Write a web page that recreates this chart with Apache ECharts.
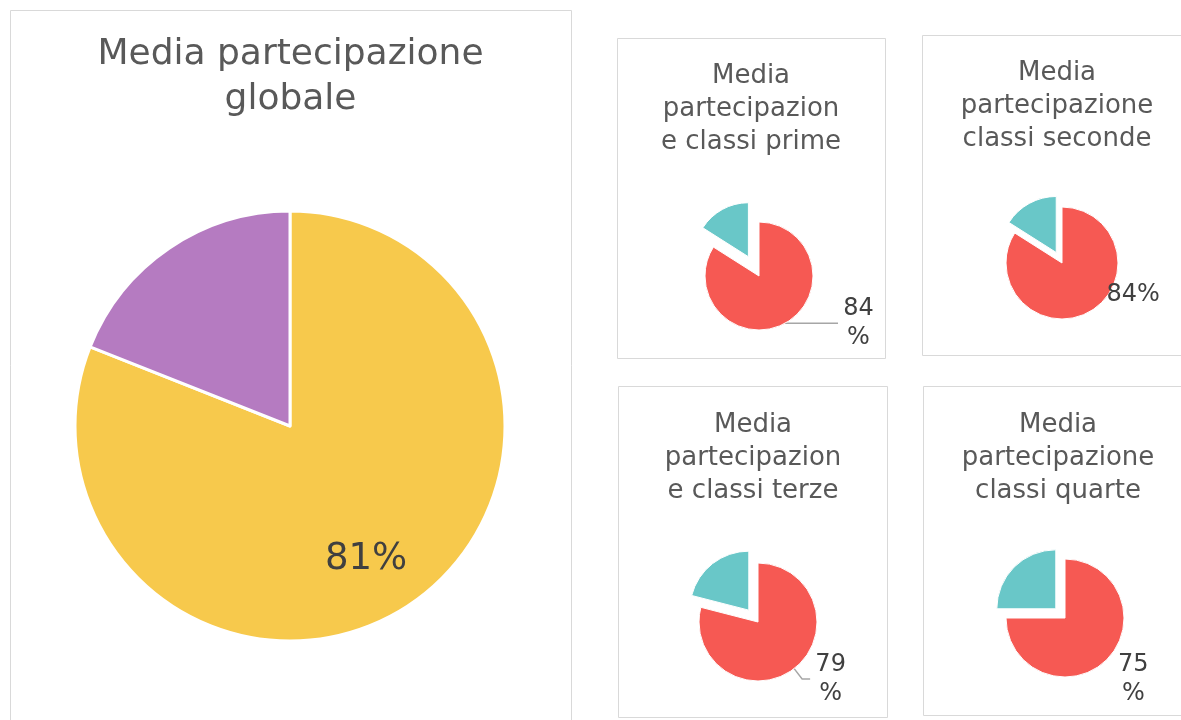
<!DOCTYPE html>
<html>
<head>
<meta charset="utf-8">
<script src="https://cdn.jsdelivr.net/npm/echarts@6/dist/echarts.min.js"></script>
<style>
html,body{margin:0;padding:0;background:#ffffff;}
#chart{width:1181px;height:720px;}
</style>
</head>
<body>
<div id="chart"></div>
<script>
// ---------------- DATA ----------------
const chartTitles = [
  'Media partecipazione\nglobale',
  'Media\npartecipazion\ne classi prime',
  'Media\npartecipazione\nclassi seconde',
  'Media\npartecipazion\ne classi terze',
  'Media\npartecipazione\nclassi quarte'
];
const sliceNames = ['Partecipazione', 'Non partecipazione'];
const participation = [81, 84, 84, 79, 75];
const nonParticipation = [19, 16, 16, 21, 25];

// ---------------- LAYOUT / STYLE ----------------
const FONT = 'DejaVu Sans';
const panels = [
  { box: [10.5, 10.5, 561, 740], tx: 290.5, ty: 32.5, tSize: 36, tLH: 45,
    center: [290, 426], r: 215, colors: ['#F7C94C', '#B57BC1'], offset: 0, border: 3,
    lSize: 37, wrap: false, pos: 'inside', layout: { dx: 14, dy: 42 } },
  { box: [617.5, 38.5, 268, 320], tx: 751, ty: 60, tSize: 26, tLH: 33,
    center: [759, 276], r: 54, colors: ['#F65953', '#69C7C8'], offset: 22, border: 1,
    lSize: 24, wrap: true, pos: 'outside', len: 0, len2: 53, line: true },
  { box: [922.5, 35.5, 272, 320], tx: 1057, ty: 56.5, tSize: 26, tLH: 33,
    center: [1062, 263], r: 56, colors: ['#F65953', '#69C7C8'], offset: 12, border: 1,
    lSize: 24, wrap: false, pos: 'outside', len: -19.5, len2: 22, line: false },
  { box: [618.5, 386.5, 269, 331], tx: 753, ty: 408.5, tSize: 26, tLH: 33,
    center: [758, 622], r: 59, colors: ['#F65953', '#69C7C8'], offset: 15, border: 1,
    lSize: 24, wrap: true, pos: 'outside', len: 13, len2: 8, line: true },
  { box: [923.5, 386.5, 272, 329], tx: 1058, ty: 408.5, tSize: 26, tLH: 33,
    center: [1065, 618], r: 59, colors: ['#F65953', '#69C7C8'], offset: 13, border: 1,
    lSize: 24, wrap: true, pos: 'outside', len: 27, len2: -13, line: false }
];

const titles = panels.map((p, i) => ({
  text: chartTitles[i],
  left: p.tx, top: p.ty, textAlign: 'center', padding: 0,
  textStyle: { fontFamily: FONT, fontSize: p.tSize, lineHeight: p.tLH, fontWeight: 'normal', color: '#595959' }
}));

const graphics = panels.map(p => ({
  type: 'rect', silent: true, z: -10,
  shape: { x: p.box[0], y: p.box[1], width: p.box[2], height: p.box[3] },
  style: { fill: 'none', stroke: '#D9D9D9', lineWidth: 1 }
}));

const series = panels.map((p, i) => {
  const labelText = { fontFamily: FONT, fontSize: p.lSize, color: '#404040' };
  const s = {
    type: 'pie',
    center: p.center,
    radius: [0, p.r],
    startAngle: 90,
    clockwise: true,
    animation: false,
    silent: true,
    avoidLabelOverlap: false,
    selectedMode: p.offset ? 'multiple' : false,
    selectedOffset: p.offset,
    emphasis: { disabled: true },
    itemStyle: { borderColor: '#ffffff', borderWidth: p.border },
    label: Object.assign({
      show: true,
      position: p.pos,
      lineHeight: p.wrap ? 29 : p.lSize * 1.2,
      formatter: (prm) => p.wrap ? '{v|' + prm.value + '}\n{v|%}' : prm.value + '%',
      rich: { v: Object.assign({ width: 31, align: 'center', lineHeight: 29 }, labelText) }
    }, labelText),
    labelLine: {
      show: !!p.line,
      length: p.len || 0,
      length2: p.len2 || 0,
      smooth: false,
      lineStyle: { color: '#A6A6A6', width: 1.5 }
    },
    data: [
      { name: sliceNames[0], value: participation[i],
        itemStyle: { color: p.colors[0] } },
      { name: sliceNames[1], value: nonParticipation[i], selected: !!p.offset,
        itemStyle: { color: p.colors[1] },
        select: { itemStyle: { color: p.colors[1] } },
        label: { show: false }, labelLine: { show: false } }
    ]
  };
  if (p.layout) s.labelLayout = p.layout;
  return s;
});

const chart = echarts.init(document.getElementById('chart'), null, { renderer: 'canvas' });
chart.setOption({
  backgroundColor: '#ffffff',
  animation: false,
  title: titles,
  graphic: graphics,
  series: series
});
</script>
</body>
</html>
